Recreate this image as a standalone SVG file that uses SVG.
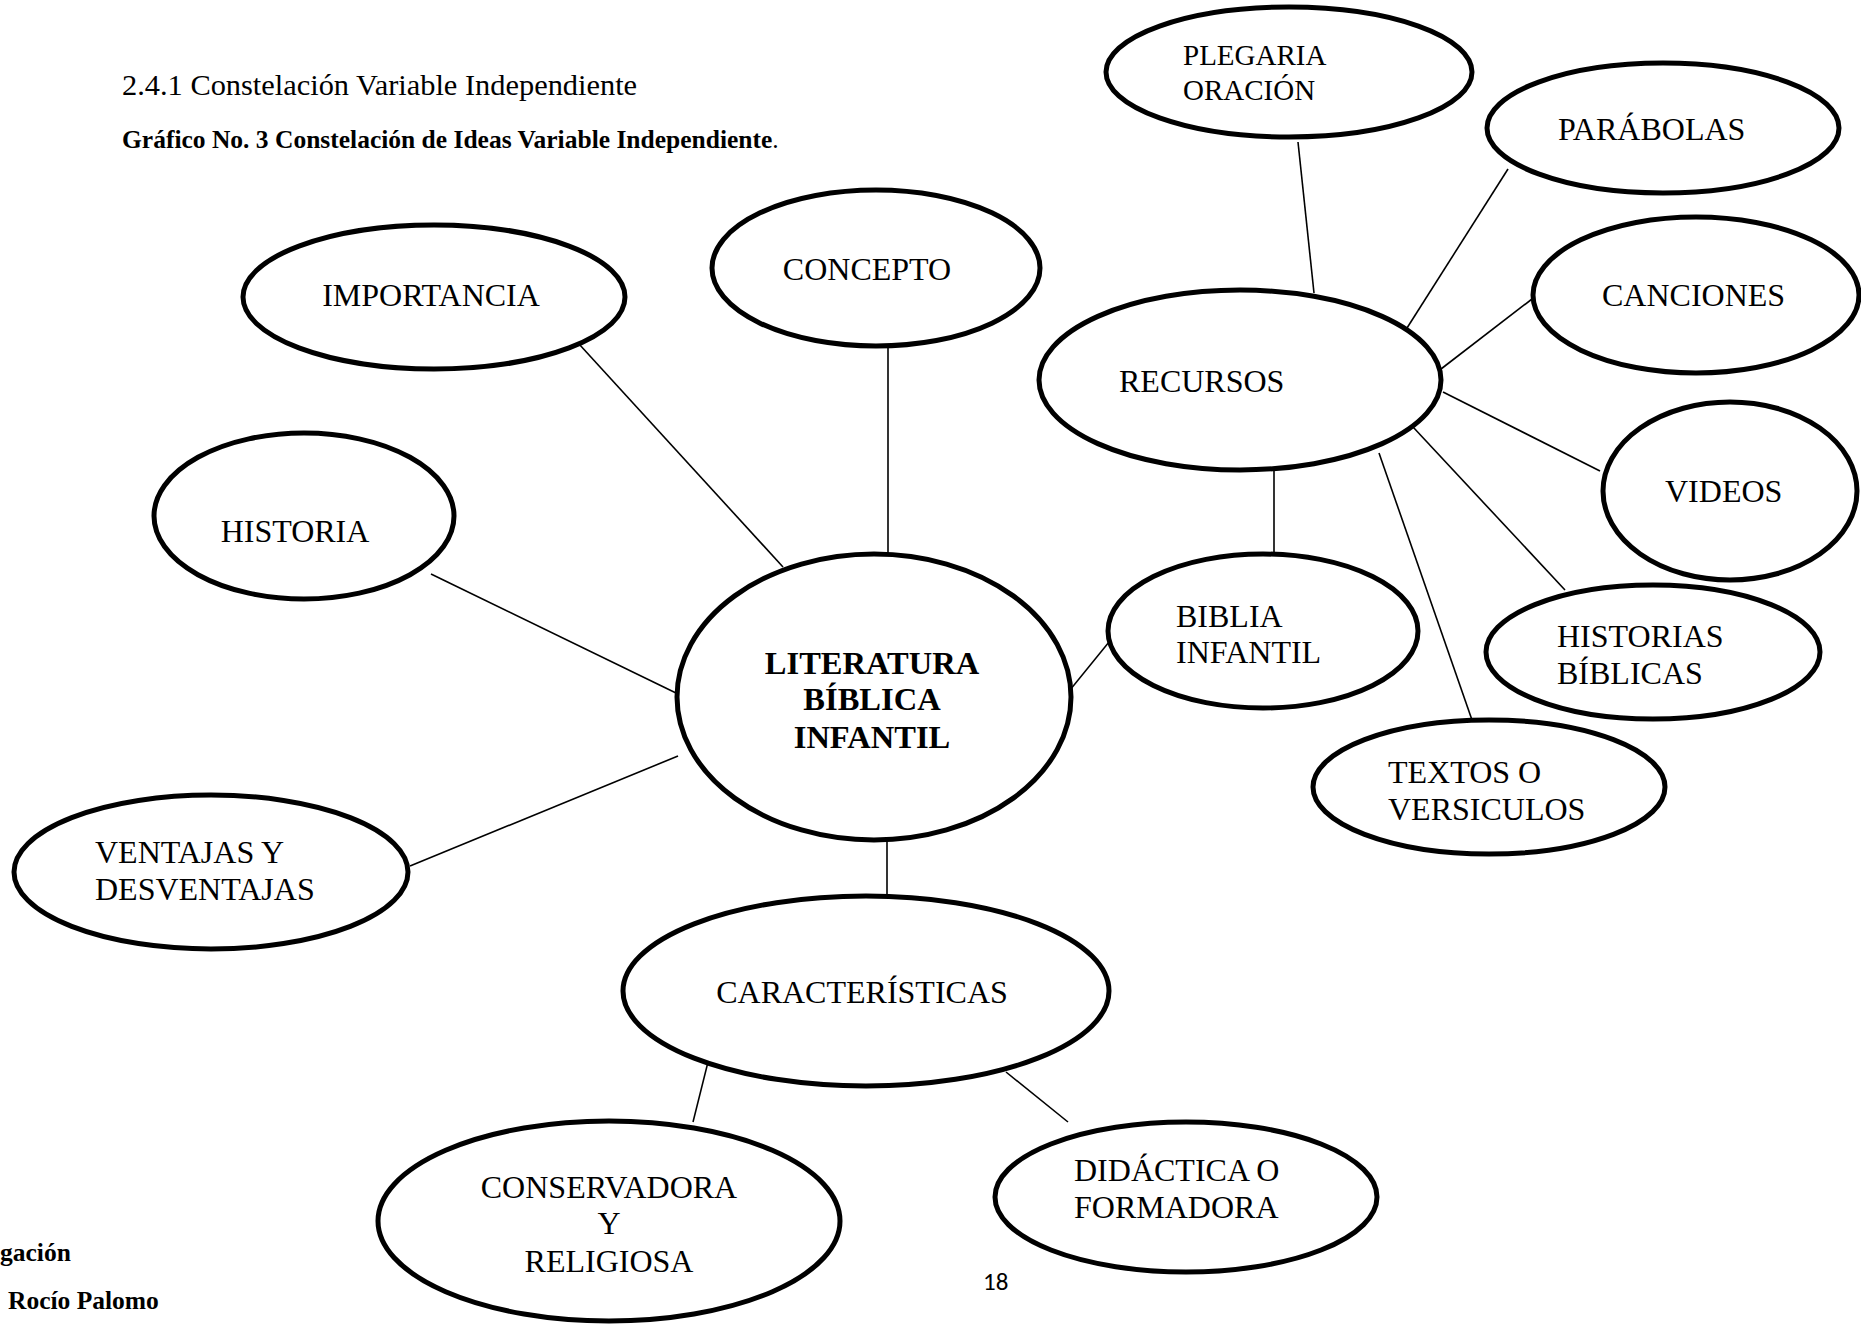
<svg xmlns="http://www.w3.org/2000/svg" width="1861" height="1325" viewBox="0 0 1861 1325">
<style>
.n{fill:#fff;stroke:#000;stroke-width:5}
.c line{stroke:#000;stroke-width:1.6}
.t{font-family:"Liberation Serif","Times New Roman",serif;font-size:32px;fill:#000}
.b{font-weight:bold}
.s{font-size:25.5px}
</style>
<rect width="1861" height="1325" fill="#fff"/>
<text class="t" x="122" y="95" style="font-size:30.4px">2.4.1 Constelación Variable Independiente</text>
<text class="t b s" x="122" y="148">Gráfico No. 3 Constelación de Ideas Variable Independiente<tspan font-weight="normal">.</tspan></text>
<g class="c" id="connectors">
<line x1="579" y1="344" x2="783" y2="567"/>
<line x1="888" y1="347" x2="888" y2="554"/>
<line x1="431" y1="574" x2="676" y2="693"/>
<line x1="410" y1="866" x2="678" y2="756"/>
<line x1="887" y1="840" x2="887" y2="896"/>
<line x1="1070" y1="690" x2="1109" y2="642"/>
<line x1="1274" y1="470" x2="1274" y2="554"/>
<line x1="1298" y1="142" x2="1314" y2="293"/>
<line x1="1508" y1="169" x2="1407" y2="328"/>
<line x1="1532" y1="299" x2="1441" y2="369"/>
<line x1="1443" y1="392" x2="1600" y2="471"/>
<line x1="1413" y1="427" x2="1565" y2="590"/>
<line x1="1379" y1="453" x2="1472" y2="720"/>
<line x1="710" y1="1054" x2="693" y2="1122"/>
<line x1="1006" y1="1072" x2="1068" y2="1122"/>
</g>
<g id="importancia"><ellipse class="n" cx="434" cy="297" rx="191" ry="72"/><text class="t" x="431" y="306" text-anchor="middle">IMPORTANCIA</text></g>
<g id="concepto"><ellipse class="n" cx="876" cy="268" rx="164" ry="78"/><text class="t" x="867" y="280" text-anchor="middle">CONCEPTO</text></g>
<g id="historia"><ellipse class="n" cx="304" cy="516" rx="150" ry="83"/><text class="t" x="295" y="542" text-anchor="middle">HISTORIA</text></g>
<g id="literatura"><ellipse class="n" cx="874" cy="697" rx="197" ry="143"/><text class="t b" style="font-size:32.5px" text-anchor="middle"><tspan x="872" y="674">LITERATURA</tspan><tspan x="872" y="710">BÍBLICA</tspan><tspan x="872" y="748">INFANTIL</tspan></text></g>
<g id="ventajas"><ellipse class="n" cx="211" cy="872" rx="197" ry="77"/><text class="t"><tspan x="95" y="863">VENTAJAS Y</tspan><tspan x="95" y="900">DESVENTAJAS</tspan></text></g>
<g id="caracteristicas"><ellipse class="n" cx="866" cy="991" rx="243" ry="95"/><text class="t" x="862" y="1003" text-anchor="middle">CARACTERÍSTICAS</text></g>
<g id="conservadora"><ellipse class="n" cx="609" cy="1221" rx="231" ry="100"/><line x1="379" y1="1210" x2="379" y2="1230" stroke="#000" stroke-width="2"/><text class="t" text-anchor="middle"><tspan x="609" y="1198">CONSERVADORA</tspan><tspan x="609" y="1234">Y</tspan><tspan x="609" y="1272">RELIGIOSA</tspan></text></g>
<g id="didactica"><ellipse class="n" cx="1186" cy="1197" rx="191" ry="75"/><text class="t"><tspan x="1074" y="1181">DIDÁCTICA O</tspan><tspan x="1074" y="1218">FORMADORA</tspan></text></g>
<g id="recursos"><ellipse class="n" cx="1240" cy="380" rx="201" ry="90"/><text class="t" x="1119" y="392">RECURSOS</text></g>
<g id="plegaria"><ellipse class="n" cx="1289" cy="72" rx="183" ry="65"/><text class="t" style="font-size:29px"><tspan x="1183" y="65">PLEGARIA</tspan><tspan x="1183" y="100">ORACIÓN</tspan></text></g>
<g id="parabolas"><ellipse class="n" cx="1663" cy="128" rx="176" ry="65"/><text class="t" x="1558" y="140">PARÁBOLAS</text></g>
<g id="canciones"><ellipse class="n" cx="1696" cy="295" rx="163" ry="78"/><text class="t" x="1602" y="306">CANCIONES</text></g>
<g id="videos"><ellipse class="n" cx="1730" cy="491" rx="127" ry="89"/><text class="t" x="1665" y="502">VIDEOS</text></g>
<g id="biblia"><ellipse class="n" cx="1263" cy="631" rx="155" ry="77"/><text class="t"><tspan x="1176" y="627">BIBLIA</tspan><tspan x="1176" y="663">INFANTIL</tspan></text></g>
<g id="historias"><ellipse class="n" cx="1653" cy="652" rx="167" ry="67"/><text class="t"><tspan x="1557" y="647">HISTORIAS</tspan><tspan x="1557" y="684">BÍBLICAS</tspan></text></g>
<g id="textos"><ellipse class="n" cx="1489" cy="787" rx="176" ry="67"/><text class="t"><tspan x="1388" y="783">TEXTOS O</tspan><tspan x="1388" y="820">VERSICULOS</tspan></text></g>
<text class="t b s" x="0" y="1261">gación</text>
<text class="t b s" x="8" y="1309">Rocío Palomo</text>
<text x="983" y="1290" font-family="Carlito,'Liberation Sans',Arial,sans-serif" font-size="25" fill="#000">18</text>
</svg>
